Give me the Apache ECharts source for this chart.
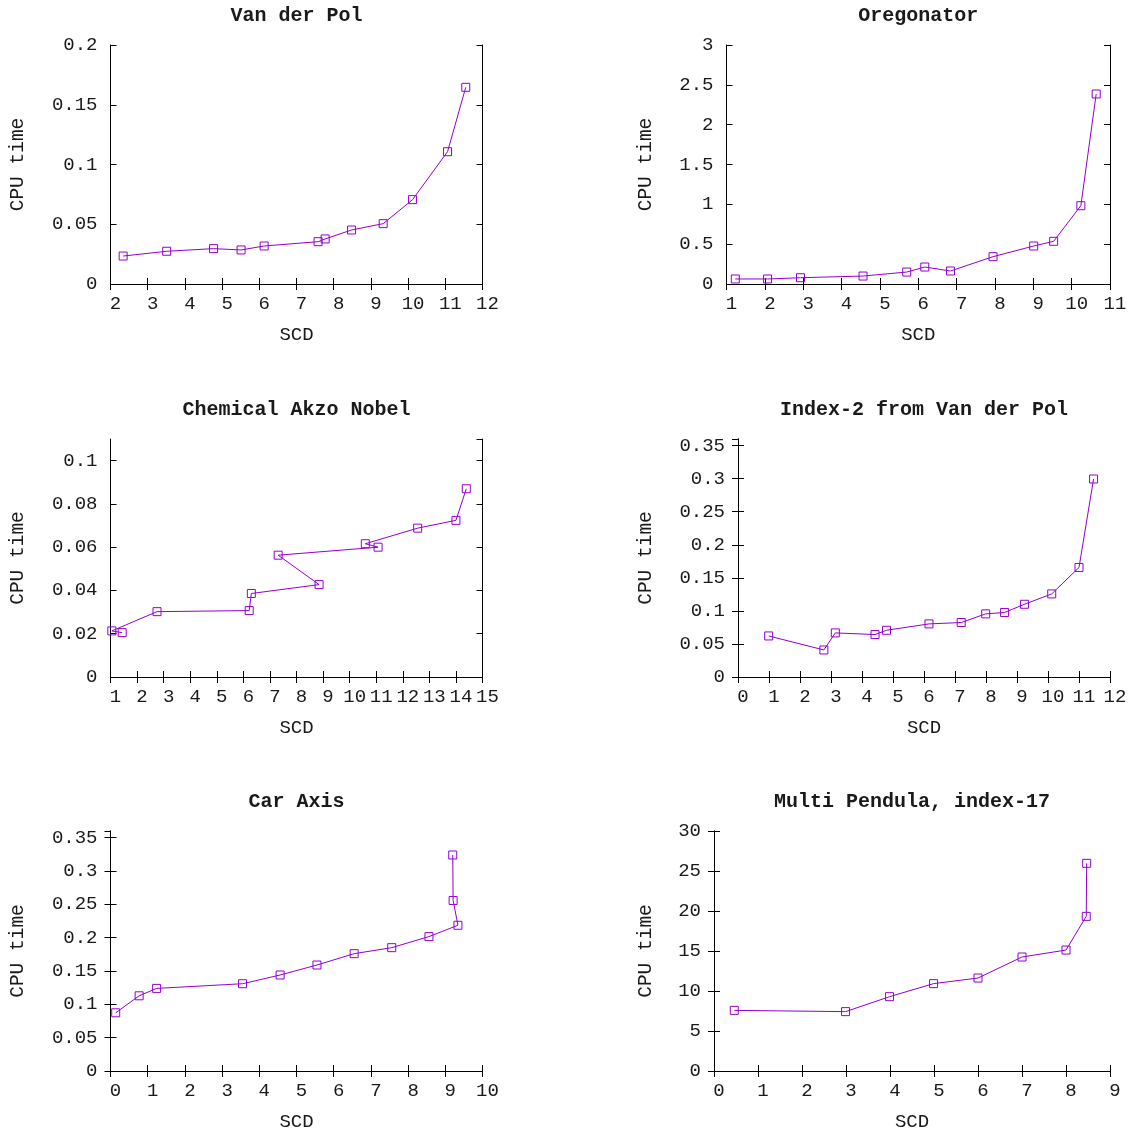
<!DOCTYPE html>
<html>
<head>
<meta charset="utf-8">
<script src="https://cdn.jsdelivr.net/npm/echarts@6/dist/echarts.min.js"></script>
<style>
  html, body { margin: 0; padding: 0; background: #fff; }
  #main { width: 1136px; height: 1133px; }
</style>
</head>
<body>
<div id="main"></div>
<script>
// values (SCD on x, CPU time on y), in drawing order
const vdpSCD = [2.34, 3.51, 4.77, 5.51, 6.13, 7.58, 7.77, 8.48, 9.33, 10.12, 11.06, 11.55];
const vdpCPU = [0.0234, 0.0274, 0.0296, 0.0285, 0.0318, 0.0354, 0.0377, 0.0452, 0.0505, 0.0706, 0.1107, 0.1646];

const oregoSCD = [1.23, 2.07, 2.93, 4.56, 5.70, 6.17, 6.84, 7.95, 9.01, 9.53, 10.24, 10.64];
const oregoCPU = [0.063, 0.063, 0.079, 0.10, 0.15, 0.213, 0.163, 0.343, 0.477, 0.536, 0.983, 2.385];

const akzoSCD = [1.44, 1.05, 2.75, 6.22, 6.30, 8.85, 7.31, 11.07, 10.59, 12.56, 14.0, 14.39];
const akzoCPU = [0.0205, 0.0213, 0.0302, 0.0307, 0.0386, 0.0427, 0.0563, 0.0600, 0.0616, 0.0688, 0.0724, 0.0870];

const idx2SCD = [0.99, 2.77, 3.14, 4.42, 4.79, 6.16, 7.20, 7.99, 8.60, 9.24, 10.12, 11.0, 11.47];
const idx2CPU = [0.0621, 0.0409, 0.0667, 0.0642, 0.0707, 0.0803, 0.0824, 0.0955, 0.0976, 0.110, 0.1257, 0.1657, 0.2995];

const carSCD = [0.14, 0.77, 1.24, 3.55, 4.56, 5.55, 6.55, 7.56, 8.56, 9.34, 9.21, 9.20];
const carCPU = [0.0873, 0.1128, 0.1239, 0.1309, 0.1440, 0.159, 0.176, 0.185, 0.2016, 0.2186, 0.2558, 0.324];

const pendSCD = [0.46, 2.99, 3.99, 4.99, 6.0, 7.0, 8.0, 8.46, 8.47];
const pendCPU = [7.58, 7.42, 9.29, 10.92, 11.62, 14.25, 15.12, 19.33, 25.96];

const titles = ['Van der Pol', 'Oregonator', 'Chemical Akzo Nobel', 'Index-2 from Van der Pol', 'Car Axis', 'Multi Pendula, index-17'];

// axis ranges per panel: [xMin, xMax, yMax, yStep]
const ranges = [
  [2, 12, 0.2, 0.05],
  [1, 11, 3, 0.5],
  [1, 15, 0.11, 0.02],
  [0, 12, 0.36, 0.05],
  [0, 10, 0.36, 0.05],
  [0, 9, 30, 5]
];

// plot boxes in pixels: left, top, width, height
const boxes = [
  [110.5, 45, 372, 239],
  [726.5, 45, 383.5, 239],
  [110.5, 439, 372, 238],
  [738, 439, 372, 238],
  [110.5, 831, 372, 240],
  [714, 831, 396, 240]
];

const xs = [vdpSCD, oregoSCD, akzoSCD, idx2SCD, carSCD, pendSCD];
const ys = [vdpCPU, oregoCPU, akzoCPU, idx2CPU, carCPU, pendCPU];

const FONT = '"Liberation Mono", "DejaVu Sans Mono", monospace';
const INK = '#1a1a1a';
const PURPLE = '#9400d3';

const grid = [], xAxis = [], yAxis = [], series = [], title = [];

boxes.forEach(function (b, i) {
  const r = ranges[i];
  grid.push({ left: b[0], top: b[1], width: b[2], height: b[3], containLabel: false });

  title.push({
    text: titles[i],
    left: b[0] + b[2] / 2,
    top: b[1] - 39,
    textAlign: 'center',
    padding: 0,
    textStyle: { fontFamily: FONT, fontWeight: 'bold', fontSize: 20, color: INK }
  });

  const lineSty = { lineStyle: { color: '#000', width: 1 } };
  const tickSty = { show: true, inside: true, length: 6, lineStyle: { color: '#000', width: 1 } };

  // bottom / left axes with labels
  xAxis.push({
    gridIndex: i, type: 'value', position: 'bottom',
    min: r[0], max: r[1], interval: 1,
    name: 'SCD', nameLocation: 'middle', nameGap: 41,
    nameTextStyle: { fontFamily: FONT, fontSize: 19, color: INK },
    axisLine: lineSty, axisTick: tickSty, splitLine: { show: false },
    axisLabel: { fontFamily: FONT, fontSize: 19, color: INK, margin: 10, padding: [0, 0, 0, 10] }
  });
  yAxis.push({
    gridIndex: i, type: 'value', position: 'left',
    min: 0, max: r[2], interval: r[3],
    name: 'CPU time', nameLocation: 'middle', nameRotate: 90,
    nameGap: b[0] - (i % 2 === 0 ? 18 : 646) - 10,
    nameTextStyle: { fontFamily: FONT, fontSize: 19.5, color: INK },
    axisLine: lineSty, axisTick: tickSty, splitLine: { show: false },
    axisLabel: { fontFamily: FONT, fontSize: 19, color: INK, margin: 13, showMaxLabel: r[2] / r[3] % 1 < 1e-9 }
  });
  // mirrored top / right axes, ticks only
  xAxis.push({
    gridIndex: i, type: 'value', position: 'top',
    min: r[0], max: r[1], interval: 1,
    axisLine: lineSty, axisTick: tickSty, axisLabel: { show: false }, splitLine: { show: false }
  });
  yAxis.push({
    gridIndex: i, type: 'value', position: 'right',
    min: 0, max: r[2], interval: r[3],
    axisLine: lineSty, axisTick: tickSty, axisLabel: { show: false }, splitLine: { show: false }
  });

  series.push({
    type: 'line',
    xAxisIndex: 2 * i, yAxisIndex: 2 * i,
    data: xs[i].map(function (x, k) { return [x, ys[i][k]]; }),
    symbol: 'rect', symbolSize: 8,
    itemStyle: { color: 'rgba(0,0,0,0)', borderColor: PURPLE, borderWidth: 1 },
    lineStyle: { color: PURPLE, width: 1 },
    animation: false
  });
});

const chart = echarts.init(document.getElementById('main'), null, { renderer: 'canvas' });
chart.setOption({
  backgroundColor: '#fff',
  animation: false,
  title: title,
  grid: grid,
  xAxis: xAxis,
  yAxis: yAxis,
  series: series
});
</script>
</body>
</html>
